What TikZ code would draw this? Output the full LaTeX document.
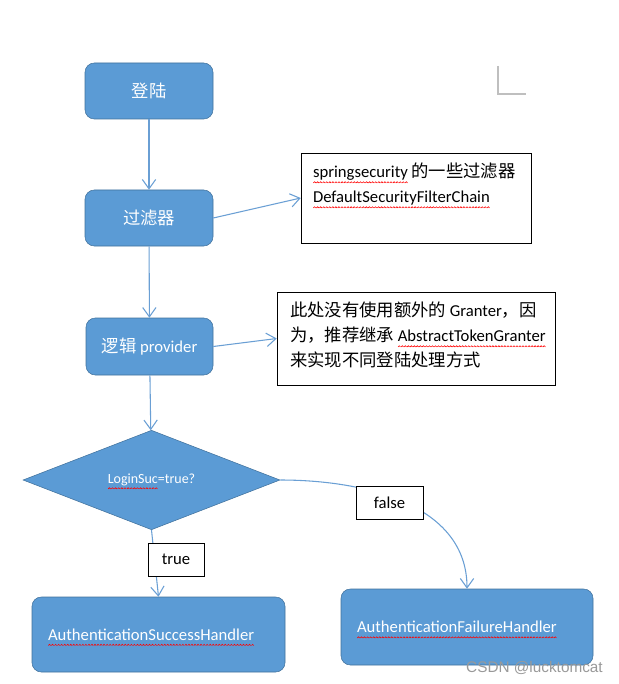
\documentclass[tikz,border=0pt]{standalone}
\usepackage{fontspec}
\setmainfont{Carlito}
\newfontfamily\cjk{Noto Sans CJK SC}[Scale=1.04]
\newfontfamily\wmfont{Liberation Sans}
\usetikzlibrary{%
  arrows.meta,
  shapes.geometric
}
\definecolor{boxfill}{HTML}{5B9BD5}
\definecolor{boxline}{HTML}{41719C}
\definecolor{flowline}{HTML}{6A9FD4}
% red spell-check wave under a word
\newsavebox\wavebox
\sbox\wavebox{\tikz\draw[red, line width=0.45pt] (0pt,0pt) -- (0.9pt,0.9pt) -- (1.8pt,0pt);}
\newcommand\spellwave[1]{\leavevmode\setbox0\hbox{#1}%
  \rlap{\raisebox{-4.2pt}[0pt][0pt]{\hbox to\wd0{\xleaders\copy\wavebox\hfill}}}\box0\relax}
\tikzset{
  >={Straight Barb[length=7pt,width=10pt]},
  flowbox/.style={draw=boxline, fill=boxfill, rounded corners=7pt, text=white,
    font=\fontsize{12.5}{14}\selectfont, inner sep=0pt},
  notebox/.style={draw=black, fill=white, inner sep=0pt},
  notetext/.style={anchor=north west, align=left, inner sep=0pt,
    font=\fontsize{12.5}{18.75}\selectfont},
  tagbox/.style={draw=black, fill=white, inner sep=0pt,
    font=\fontsize{12.5}{14}\selectfont},
  flow/.style={draw=flowline, line width=0.8pt}
}

\begin{document}
\begin{tikzpicture}[x=0.75pt,y=-0.75pt]
  \useasboundingbox (0,0) rectangle (618,684);

  % main chain
  \node[flowbox, minimum width=96pt, minimum height=42pt] (login) at (149,91) {\cjk 登陆};
  \node[flowbox, minimum width=96pt, minimum height=42pt] (filter) at (149,218) {\cjk 过滤器};
  \node[flowbox, minimum width=95.25pt, minimum height=42.75pt] (provider) at (149.5,346.5)
    {{\cjk 逻辑} provider};
  \node[diamond, draw=boxline, fill=boxfill, text=white, inner sep=0pt,
    minimum width=192.75pt, minimum height=72pt, font=\fontsize{10.5}{12}\selectfont]
    (decision) at (151.5,480) {\spellwave{LoginSuc}=true?};
  \node[flowbox, align=left, text width=165.75pt, minimum height=56.25pt,
    inner xsep=12pt] (success) at (158.5,634.5) {\spellwave{AuthenticationSuccessHandler}};
  \node[flowbox, align=left, text width=165pt, minimum height=57pt,
    inner xsep=12pt] (failure) at (467,627) {\spellwave{AuthenticationFailureHandler}};

  % notes
  \node[notebox, minimum width=172.5pt, minimum height=67.5pt] (filters) at (416,198) {};
  \node[notetext] (filterstext) at ([shift={(12,10)}]filters.north west)
    {\spellwave{springsecurity} {\cjk 的一些过滤器}\\\spellwave{DefaultSecurityFilterChain}};
  \node[notebox, minimum width=208.5pt, minimum height=69.75pt] (granter) at (416,338.5) {};
  \node[notetext] (grantertext) at ([shift={(13,10)}]granter.north west)
    {{\cjk 此处没有使用额外的} Granter{\cjk ，因}\\
     {\cjk 为，推荐继承} \spellwave{AbstractTokenGranter}\\
     {\cjk 来实现不同登陆处理方式}};

  % connectors
  \draw[flow,->] (login) -- (filter);
  \draw[flow,->] (filter.east) -- (filters.west);
  \draw[flow,->] (filter) -- (provider);
  \draw[flow,->] (provider.east) -- (granter.west);
  \draw[flow,->] (provider) -- (decision);
  \draw[flow,->] (decision.south) -- (success.north);
  \draw[flow,->] (decision.east) to[out=0,in=90] (failure.north);

  \node[tagbox, minimum width=42pt, minimum height=24.75pt] (truetag) at (176,559.5) {true};
  \node[tagbox, minimum width=50.25pt, minimum height=24.75pt] (falsetag) at (389.5,502.5) {false};

  % corner mark and watermark
  \draw[black!25, line width=0.8pt] (498,66) -- (498,94) -- (526,94);
  \node[text=black!40, font=\wmfont\fontsize{11.5}{13}\selectfont, inner sep=0pt]
    (mark) at (534.5,668) {CSDN @lucktomcat};
\end{tikzpicture}
\end{document}
